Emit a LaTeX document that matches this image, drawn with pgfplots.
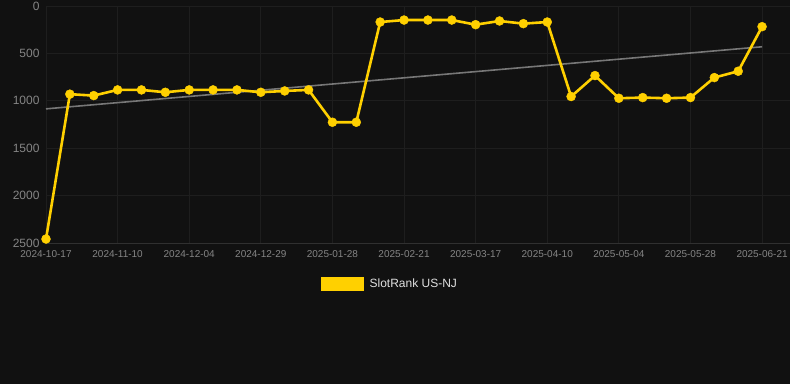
\documentclass[border=0pt]{standalone}
\usepackage{pgfplots}
\pgfplotsset{compat=1.18}
\usepackage{fontspec}
\setmainfont{Liberation Sans}
\definecolor{bg}{HTML}{111111}
\definecolor{gridc}{HTML}{1E1E1E}
\definecolor{axisc}{HTML}{303030}
\definecolor{gold}{HTML}{FFD000}
\definecolor{trendc}{HTML}{777777}
\definecolor{ticktxt}{HTML}{858585}
\definecolor{legtxt}{HTML}{E0E0E0}
\begin{document}
\begin{tikzpicture}[x=1pt,y=1pt]
\useasboundingbox (0,0) rectangle (790,384);
\fill[bg] (0,0) rectangle (790,384);
\begin{axis}[
  at={(46pt,141pt)}, anchor=south west,
  scale only axis, width=744pt, height=237pt,
  xmin=0, xmax=31.17, ymin=0, ymax=2500, y dir=reverse,
  clip=false,
  axis line style={draw=none},
  xtick={0,3,...,30},
  xticklabels={2024-10-17,2024-11-10,2024-12-04,2024-12-29,2025-01-28,2025-02-21,2025-03-17,2025-04-10,2025-05-04,2025-05-28,2025-06-21},
  ytick={0,500,1000,1500,2000,2500},
  /pgf/number format/assume math mode=true,
  /pgf/number format/1000 sep={},
  major tick length=0pt,
  grid=major,
  major grid style={draw=gridc, line width=0.8pt},
  x tick label style={font=\fontsize{10}{12}\selectfont, text=ticktxt, yshift=-4pt},
  y tick label style={font=\fontsize{12}{14}\selectfont, text=ticktxt, xshift=-3pt},
  legend style={at={(0.4624,-0.173)}, anchor=center, draw=none, fill=none,
    text=legtxt, font=\fontsize{12}{14}\selectfont,
    legend cell align=left,
    /tikz/every odd column/.append style={column sep=4pt}},
  legend image code/.code={\fill[gold] (-3pt,-6pt) rectangle (37pt,6pt);},
]
\draw[axisc, line width=0.8pt] (axis cs:0,2500) -- (axis cs:31.17,2500);
\addplot[trendc, line width=1.6pt, forget plot] coordinates {(0,1085) (30,430)};
\addplot[gold, line width=2.6pt, mark=*, mark size=4.5pt, mark options={solid, fill=gold, draw=gold, line width=0.4pt}] coordinates {
(0,2458) (1,930) (2,945) (3,885) (4,885) (5,910) (6,885) (7,885) (8,885) (9,910)
(10,896) (11,885) (12,1226) (13,1226) (14,169) (15,148) (16,148) (17,148) (18,197) (19,158)
(20,186) (21,169) (22,955) (23,734) (24,973) (25,966) (26,973) (27,966) (28,755) (29,688)
(30,218)};
\addlegendentry{SlotRank US-NJ}
\end{axis}
\end{tikzpicture}
\end{document}
